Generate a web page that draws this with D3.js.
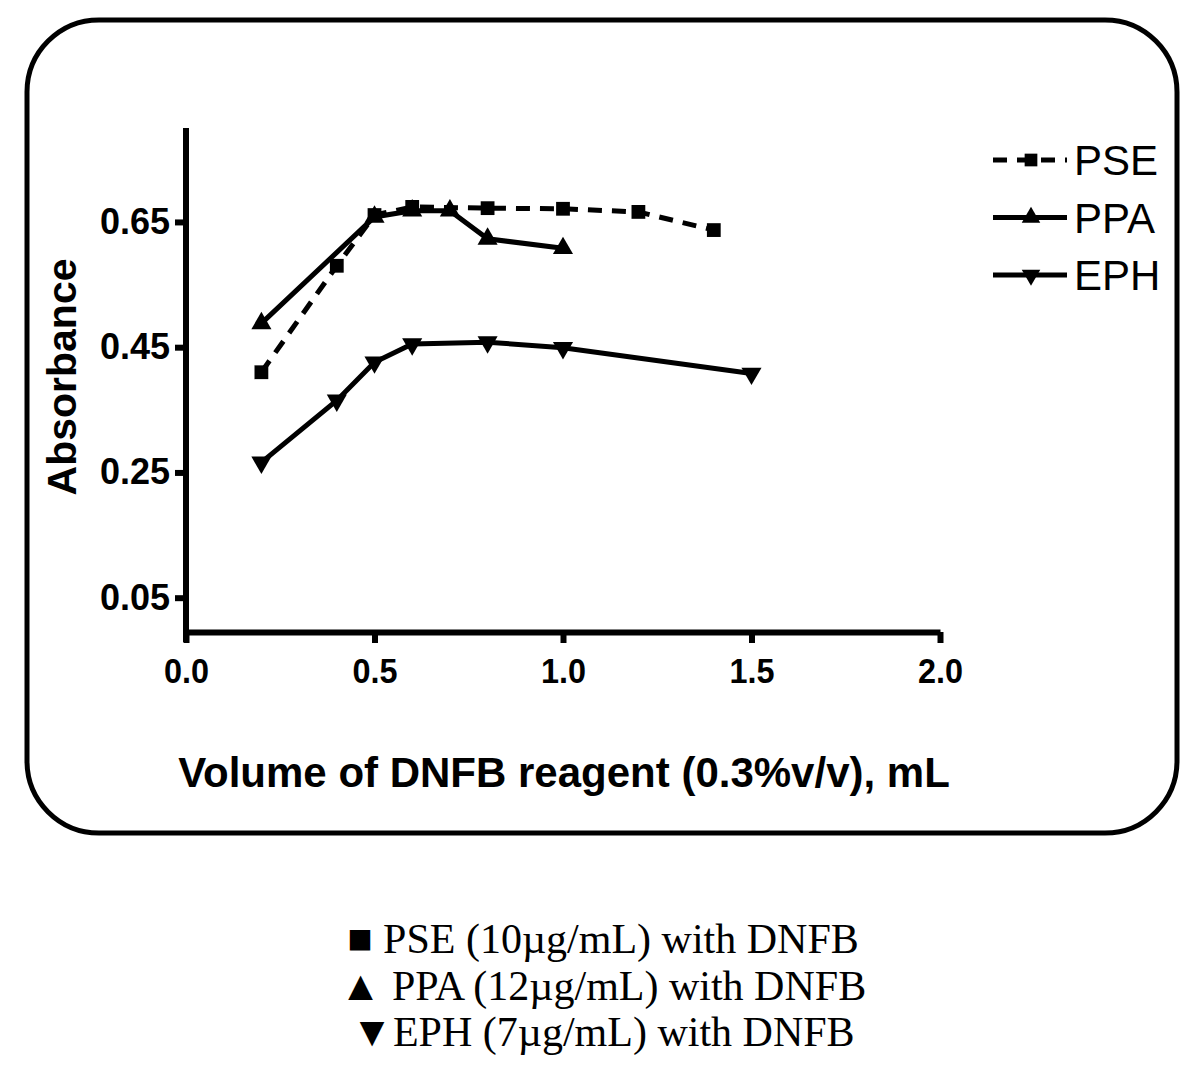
<!DOCTYPE html>
<html>
<head>
<meta charset="utf-8">
<script src="https://cdn.jsdelivr.net/npm/d3@7"></script>
<style>
  body { margin: 0; background: #fff; }
  svg { display: block; }
</style>
</head>
<body>
<svg id="chart"></svg>
<script>
// data
var volumePSE = [0.2, 0.4, 0.5, 0.6, 0.8, 1.0, 1.2, 1.4];
var absPSE    = [0.41, 0.58, 0.661, 0.674, 0.672, 0.671, 0.666, 0.637];
var volumePPA = [0.2, 0.5, 0.6, 0.7, 0.8, 1.0];
var absPPA    = [0.488, 0.658, 0.668, 0.668, 0.623, 0.608];
var volumeEPH = [0.2, 0.4, 0.5, 0.6, 0.8, 1.0, 1.5];
var absEPH    = [0.266, 0.365, 0.426, 0.455, 0.458, 0.449, 0.408];
var xTicks = [0, 0.5, 1.0, 1.5, 2.0];
var yTicks = [0.05, 0.25, 0.45, 0.65];
var seriesNames = ['PSE', 'PPA', 'EPH'];
var captionLines = ['\u25A0 PSE (10\u00B5g/mL) with DNFB',
                    '\u25B2 PPA (12\u00B5g/mL) with DNFB',
                    '\u25BCEPH (7\u00B5g/mL) with DNFB'];

var W = 1200, H = 1088;
var svg = d3.select('#chart').attr('width', W).attr('height', H);

// rounded frame
svg.append('rect')
  .attr('x', 27).attr('y', 20)
  .attr('width', 1150).attr('height', 813)
  .attr('rx', 72).attr('ry', 72)
  .attr('fill', 'none').attr('stroke', '#000').attr('stroke-width', 5);

var x = d3.scaleLinear().domain([0, 2]).range([186, 940]);
var y = d3.scaleLinear().domain([0, 0.8]).range([629, 128]);
var xAxisY = 632;

// x axis
var gx = svg.append('g')
  .attr('transform', 'translate(0,' + xAxisY + ')')
  .call(d3.axisBottom(x).tickValues(xTicks).tickFormat(d3.format('.1f'))
    .tickSize(11).tickSizeOuter(0).tickPadding(14));
gx.select('.domain').attr('stroke-width', 6);
gx.selectAll('.tick line').attr('stroke-width', 6);
gx.selectAll('.tick text')
  .attr('font-family', 'Liberation Sans, Arial, sans-serif')
  .attr('font-weight', 'bold').attr('font-size', 36).attr('fill', '#000')
  .attr('transform', 'scale(0.9,1)');

// y axis
var gy = svg.append('g')
  .attr('transform', 'translate(' + x(0) + ',0)')
  .call(d3.axisLeft(y).tickValues(yTicks).tickFormat(d3.format('.2f'))
    .tickSize(11).tickPadding(5));
gy.select('.domain').remove();
gy.selectAll('.tick line').attr('stroke-width', 6);
gy.selectAll('.tick text')
  .attr('font-family', 'Liberation Sans, Arial, sans-serif')
  .attr('font-weight', 'bold').attr('font-size', 36).attr('fill', '#000');
svg.append('line')
  .attr('x1', x(0)).attr('x2', x(0))
  .attr('y1', y(0.8)).attr('y2', xAxisY + 10)
  .attr('stroke', '#000').attr('stroke-width', 6);

// axis titles
svg.append('text')
  .attr('transform', 'translate(76,377) rotate(-90)')
  .attr('text-anchor', 'middle')
  .attr('font-family', 'Liberation Sans, Arial, sans-serif')
  .attr('font-weight', 'bold').attr('font-size', 41)
  .text('Absorbance');

svg.append('text')
  .attr('x', 564).attr('y', 787)
  .attr('text-anchor', 'middle')
  .attr('font-family', 'Liberation Sans, Arial, sans-serif')
  .attr('font-weight', 'bold').attr('font-size', 42)
  .text('Volume of DNFB reagent (0.3%v/v), mL');

// series
var series = [
  { name: 'PSE', xs: volumePSE, ys: absPSE, dash: '14,10', sym: d3.symbolSquare, size: 190, rot: 0 },
  { name: 'PPA', xs: volumePPA, ys: absPPA, dash: null, sym: d3.symbolTriangle, size: 175, rot: 0 },
  { name: 'EPH', xs: volumeEPH, ys: absEPH, dash: null, sym: d3.symbolTriangle, size: 175, rot: 180 }
];

var line = d3.line().x(function(d) { return x(d[0]); }).y(function(d) { return y(d[1]); });

series.forEach(function(s)
{
  var pts = s.xs.map(function(v, i) { return [v, s.ys[i]]; });
  svg.append('path')
    .datum(pts)
    .attr('d', line)
    .attr('fill', 'none')
    .attr('stroke', '#000')
    .attr('stroke-width', 5)
    .attr('stroke-dasharray', s.dash);
  svg.selectAll(null)
    .data(pts)
    .enter()
    .append('path')
    .attr('d', d3.symbol().type(s.sym).size(s.size))
    .attr('transform', function(d)
    {
      return 'translate(' + x(d[0]) + ',' + y(d[1]) + ') rotate(' + s.rot + ')';
    })
    .attr('fill', '#000');
});

// legend inside frame
series.forEach(function(s, i)
{
  var ly = 160 + i * 57.5;
  svg.append('line')
    .attr('x1', 993).attr('x2', 1067)
    .attr('y1', ly).attr('y2', ly)
    .attr('stroke', '#000').attr('stroke-width', 5)
    .attr('stroke-dasharray', s.dash ? '14,10' : null);
  svg.append('path')
    .attr('d', d3.symbol().type(s.sym).size(s.size * 0.85))
    .attr('transform', 'translate(1031,' + ly + ') rotate(' + s.rot + ')')
    .attr('fill', '#000');
  svg.append('text')
    .attr('x', 1074).attr('y', ly + 15)
    .attr('font-family', 'Liberation Sans, Arial, sans-serif')
    .attr('font-size', 42)
    .text(seriesNames[i]);
});

// caption below the frame
svg.selectAll('.caption')
  .data(captionLines)
  .enter()
  .append('text')
  .attr('class', 'caption')
  .attr('x', 603)
  .attr('y', function(d, i) { return 953 + i * 46.5; })
  .attr('text-anchor', 'middle')
  .attr('font-family', 'Liberation Serif, Times New Roman, serif')
  .attr('font-size', 42)
  .text(function(d) { return d; });
</script>
</body>
</html>
